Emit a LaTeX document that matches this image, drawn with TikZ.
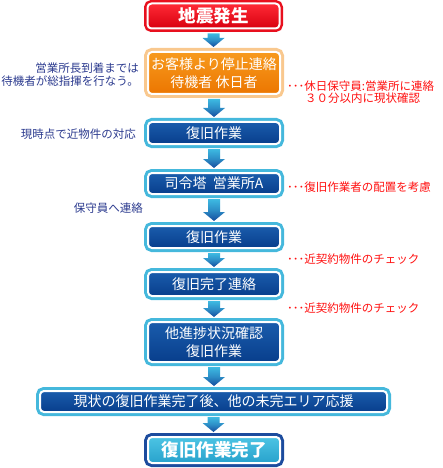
\documentclass[tikz,border=0pt]{standalone}
\usepackage{fontspec}
\setmainfont{Noto Sans CJK JP}
\usetikzlibrary{calc}
\definecolor{blueTop}{HTML}{1A5CAC}
\definecolor{blueBot}{HTML}{083E8C}
\definecolor{cyanB}{HTML}{45B8DC}
\definecolor{redTop}{HTML}{FF2A36}
\definecolor{redBot}{HTML}{D8000F}
\definecolor{redB}{HTML}{E8101E}
\definecolor{orTop}{HTML}{F79A1E}
\definecolor{orBot}{HTML}{EC7600}
\definecolor{orB}{HTML}{F9C88E}
\definecolor{fiTop}{HTML}{4CC4E4}
\definecolor{fiBot}{HTML}{28A2CC}
\definecolor{fiB}{HTML}{1C4C9E}
\definecolor{arrTop}{HTML}{3DBAE2}
\definecolor{arrBot}{HTML}{154C9E}
\definecolor{noteBlue}{HTML}{2B3A8E}
\definecolor{noteRed}{HTML}{FF1010}
\tikzset{
  fbox/.style={rounded corners=4pt, draw=white, line width=2pt,
    minimum width=132pt, inner sep=0pt, text=white, align=center,
    font=\fontsize{14}{18}\selectfont},
  bluebox/.style={fbox, top color=blueTop, bottom color=blueBot,
    preaction={draw=cyanB, line width=8pt}},
  redbox/.style={fbox, top color=redTop, bottom color=redBot,
    preaction={draw=redB, line width=7pt},
    font=\fontsize{17.5}{20}\selectfont\bfseries},
  orangebox/.style={fbox, top color=orTop, bottom color=orBot,
    preaction={draw=orB, line width=8pt}},
  finalbox/.style={fbox, top color=fiTop, bottom color=fiBot,
    preaction={draw=fiB, line width=8pt},
    font=\fontsize{17.5}{20}\selectfont\bfseries},
  leftnote/.style={text=noteBlue, anchor=east, align=right, inner sep=0pt,
    font=\fontsize{11.5}{13}\selectfont},
  rightnote/.style={text=noteRed, anchor=west, align=left, inner sep=0pt,
    font=\fontsize{11.5}{12}\selectfont},
}
\newcommand\flowarrow[2]{%
  \shade[top color=arrTop, bottom color=arrBot, middle color=arrTop!60!arrBot]
    let \p1=(#1.south), \p2=(#2.north) in
    (\x1-6pt,\y1-4pt) -- (\x1+6pt,\y1-4pt) -- (\x1+6pt,\y2+13pt)
    -- (\x1+11pt,\y2+13pt) -- (\x1,\y2+4pt) -- (\x1-11pt,\y2+13pt)
    -- (\x1-6pt,\y2+13pt) -- cycle;}
\begin{document}
\begin{tikzpicture}[x=1pt,y=-1pt]
\useasboundingbox (0,0) rectangle (443,468);
\node[redbox, minimum height=25pt] (b1) at (213.5,16) {地震発生};
\node[orangebox, minimum height=42pt] (b2) at (214,73) {お客様より停止連絡\\待機者\ 休日者};
\node[bluebox, minimum height=22pt] (b3) at (214,133) {復旧作業};
\node[bluebox, minimum height=21pt] (b4) at (214,183.5) {司令塔\ \ 営業所A};
\node[bluebox, minimum height=22pt] (b5) at (214,237) {復旧作業};
\node[bluebox, minimum height=24pt] (b6) at (214,284) {復旧完了連絡};
\node[bluebox, minimum height=40pt] (b7) at (214,342) {他進捗状況確認\\復旧作業};
\node[bluebox, minimum height=21pt, minimum width=347pt] (b8) at (213.5,401.5) {現状の復旧作業完了後、他の未完エリア応援};
\node[finalbox, minimum height=26pt] (b9) at (214,450) {復旧作業完了};
\flowarrow{b1}{b2}
\flowarrow{b2}{b3}
\flowarrow{b3}{b4}
\flowarrow{b4}{b5}
\flowarrow{b5}{b6}
\flowarrow{b6}{b7}
\flowarrow{b7}{b8}
\flowarrow{b8}{b9}
\node[leftnote] (n1) at (139,74.5) {営業所長到着までは\\待機者が総指揮を行なう。};
\node[leftnote] (n2) at (136,134) {現時点で近物件の対応};
\node[leftnote] (n3) at (143,208) {保守員へ連絡};
\node[rightnote] (r1) at (287,86) {･･･休日保守員:営業所に連絡};
\node[rightnote] (r1b) at (305,98) {３０分以内に現状確認};
\node[rightnote] (r2) at (287,187) {･･･復旧作業者の配置を考慮};
\node[rightnote] (r3) at (287,259) {･･･近契約物件のチェック};
\node[rightnote] (r4) at (287,308) {･･･近契約物件のチェック};
\end{tikzpicture}
\end{document}
